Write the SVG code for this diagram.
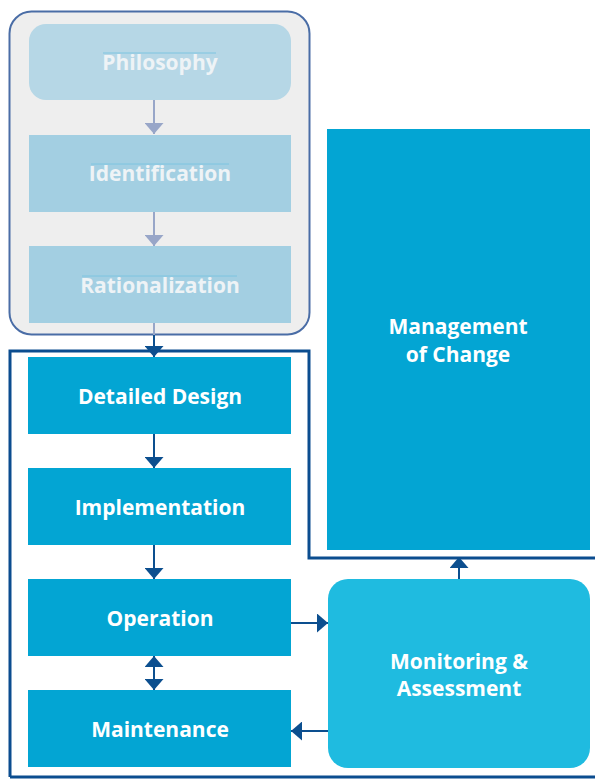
<svg xmlns="http://www.w3.org/2000/svg" width="595" height="779" viewBox="0 0 595 779">
<style>
.t{font-family:"Open Sans","Noto Sans","Liberation Sans",sans-serif;font-weight:bold;font-size:21px;text-anchor:middle;fill:#ffffff}
.f{fill:#eef3f6}
.box{fill:#03a5d3}
.cd{stroke:#0c4f8f;stroke-width:2;fill:none}
.cg{stroke:#98a6c8;stroke-width:2;fill:none}
.ul{stroke:#7cc4e0;stroke-width:1}
</style>
<defs>
<marker id="ad" viewBox="0 0 11 19" refX="11" refY="9.5" markerWidth="11" markerHeight="19" markerUnits="userSpaceOnUse" orient="auto-start-reverse"><path d="M0,0 L11,9.5 L0,19 Z" fill="#0c4f8f"/></marker>
<marker id="ag" viewBox="0 0 11 19" refX="11" refY="9.5" markerWidth="11" markerHeight="19" markerUnits="userSpaceOnUse" orient="auto"><path d="M0,0 L11,9.5 L0,19 Z" fill="#98a6c8"/></marker>
</defs>
<rect width="595" height="779" fill="#ffffff"/>
<g id="upstream-group">
<rect x="9.5" y="11.5" width="300" height="323" rx="22" fill="#eeeeee" stroke="#4a6da6" stroke-width="2"/>
</g>
<g id="frame">
<path d="M10,777 V351 H309 V558 H597 M10,777 H597" fill="none" stroke="#0b4d8f" stroke-width="3"/>
</g>
<g id="philosophy">
<rect x="29" y="24" width="262" height="76" rx="17" fill="#b6d7e6"/>
<line class="ul" x1="103" y1="53" x2="216" y2="53"/>
<text class="t f" x="160" y="70">Philosophy</text>
</g>
<g id="identification">
<rect x="29" y="135" width="262" height="77" fill="#a3cfe2"/>
<line class="ul" x1="91" y1="164" x2="229" y2="164"/>
<text class="t f" x="160" y="181">Identification</text>
</g>
<g id="rationalization">
<rect x="29" y="246" width="262" height="77" fill="#a3cfe2"/>
<line class="ul" x1="82" y1="276" x2="237" y2="276"/>
<text class="t f" x="160" y="293">Rationalization</text>
</g>
<g id="detailed-design">
<rect class="box" x="28" y="357" width="263" height="77"/>
<text class="t" x="160" y="404">Detailed Design</text>
</g>
<g id="implementation">
<rect class="box" x="28" y="468" width="263" height="77"/>
<text class="t" x="160" y="515">Implementation</text>
</g>
<g id="operation">
<rect class="box" x="28" y="579" width="263" height="77"/>
<text class="t" x="160" y="626">Operation</text>
</g>
<g id="maintenance">
<rect class="box" x="28" y="690" width="263" height="77"/>
<text class="t" x="160" y="737">Maintenance</text>
</g>
<g id="management-of-change">
<rect class="box" x="327" y="129" width="263" height="421"/>
<text class="t" x="458" y="334">Management</text>
<text class="t" x="458" y="362">of Change</text>
</g>
<g id="monitoring-assessment">
<rect x="328" y="579" width="262" height="189" rx="20" fill="#1fbbe0"/>
<text class="t" x="459" y="669">Monitoring &amp;</text>
<text class="t" x="459" y="696">Assessment</text>
</g>
<g id="connectors">
<line class="cg" x1="154" y1="100" x2="154" y2="134" marker-end="url(#ag)"/>
<line class="cg" x1="154" y1="212" x2="154" y2="246" marker-end="url(#ag)"/>
<line class="cg" x1="154" y1="323" x2="154" y2="336"/>
<line class="cd" x1="154" y1="335" x2="154" y2="357" marker-end="url(#ad)"/>
<line class="cd" x1="154" y1="434" x2="154" y2="468" marker-end="url(#ad)"/>
<line class="cd" x1="154" y1="545" x2="154" y2="579" marker-end="url(#ad)"/>
<line class="cd" x1="154" y1="656" x2="154" y2="690" marker-start="url(#ad)" marker-end="url(#ad)"/>
<line class="cd" x1="291" y1="623" x2="328" y2="623" marker-end="url(#ad)"/>
<line class="cd" x1="328" y1="731" x2="291" y2="731" marker-end="url(#ad)"/>
<line class="cd" x1="459" y1="579" x2="459" y2="557" marker-end="url(#ad)"/>
</g>
</svg>
